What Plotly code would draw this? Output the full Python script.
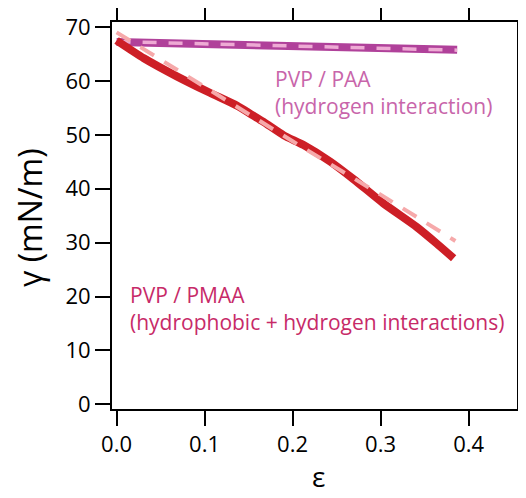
import plotly.graph_objects as go

# PVP / PMAA data (red)
pmaa_eps = [0.0, 0.031, 0.069, 0.106, 0.137, 0.152, 0.167, 0.19, 0.2125, 0.243, 0.269, 0.303, 0.341, 0.364, 0.383]
pmaa_gamma = [67.5, 64.2, 60.8, 57.8, 55.4, 53.9, 52.4, 49.9, 48.1, 45.0, 41.8, 37.3, 32.9, 29.8, 27.1]
# fit (pink dashed) for PMAA
pmaa_fit_eps = [0.0, 0.1, 0.2, 0.3, 0.385]
pmaa_fit_gamma = [69.0, 58.8, 48.8, 38.9, 30.3]

# PVP / PAA data (purple)
paa_eps = [0.0, 0.1, 0.2, 0.3, 0.387]
paa_gamma = [67.2, 66.9, 66.5, 66.1, 65.8]
paa_fit_gamma = [67.3, 66.9, 66.5, 66.1, 65.7]

x_ticks = [0.0, 0.1, 0.2, 0.3, 0.4]
x_ticklabels = ["0.0", "0.1", "0.2", "0.3", "0.4"]
y_ticks = [0, 10, 20, 30, 40, 50, 60, 70]

FONT = "Open Sans"

fig = go.Figure()
fig.add_trace(go.Scatter(x=paa_eps, y=paa_gamma, mode="lines",
                         line=dict(color="#b0419a", width=8), showlegend=False))
fig.add_trace(go.Scatter(x=paa_eps, y=paa_fit_gamma, mode="lines",
                         line=dict(color="#eeaad4", width=3.5, dash="14px,12px"), showlegend=False))
fig.add_trace(go.Scatter(x=pmaa_eps, y=pmaa_gamma, mode="lines",
                         line=dict(color="#cd1f26", width=8, shape="spline", smoothing=0.6), showlegend=False))
fig.add_trace(go.Scatter(x=pmaa_fit_eps, y=pmaa_fit_gamma, mode="lines",
                         line=dict(color="#f6a9aa", width=4, dash="16px,12px"), showlegend=False))

fig.add_annotation(x=0.178, y=63.3, xref="x", yref="y", xanchor="left", yanchor="top",
                   text="PVP / PAA<br>(hydrogen interaction)", showarrow=False, align="left",
                   font=dict(family=FONT, size=21, color="#c865aa"))
fig.add_annotation(x=0.0133, y=23.3, xref="x", yref="y", xanchor="left", yanchor="top",
                   text="PVP / PMAA<br>(hydrophobic + hydrogen interactions)", showarrow=False, align="left",
                   font=dict(family=FONT, size=21, color="#c72a68"))

# axis titles
fig.add_annotation(x=0.511, y=-0.2274, xref="paper", yref="paper", xanchor="center", yanchor="bottom",
                   text="ε", showarrow=False, font=dict(family=FONT, size=28, color="black"))
fig.add_annotation(x=-0.205, y=0.496, xref="paper", yref="paper", xanchor="center", yanchor="middle",
                   text="γ (mN/m)", textangle=-90, showarrow=False,
                   font=dict(family=FONT, size=32, color="black"))

# page body has an 8px margin, so the figure is 8px smaller and margins shifted
fig.update_layout(
    width=518, height=490,
    margin=dict(l=104, r=9, t=14, b=89),
    plot_bgcolor="white", paper_bgcolor="white",
    font=dict(family=FONT, color="black"),
)
fig.update_xaxes(range=[-0.0052, 0.455], tickvals=x_ticks, ticktext=x_ticklabels, automargin=False,
                 showgrid=False, zeroline=False, showline=True, linecolor="black", linewidth=2,
                 mirror="ticks", ticks="outside", ticklen=15, tickwidth=2, tickcolor="black",
                 tickfont=dict(size=22, family=FONT))
fig.update_yaxes(range=[-0.87, 70.93], tickvals=y_ticks, automargin=False,
                 showgrid=False, zeroline=False, showline=True, linecolor="black", linewidth=2,
                 mirror="ticks", ticks="outside", ticklen=15, tickwidth=2, tickcolor="black",
                 tickfont=dict(size=22, family=FONT))

fig.write_html("out.html")
